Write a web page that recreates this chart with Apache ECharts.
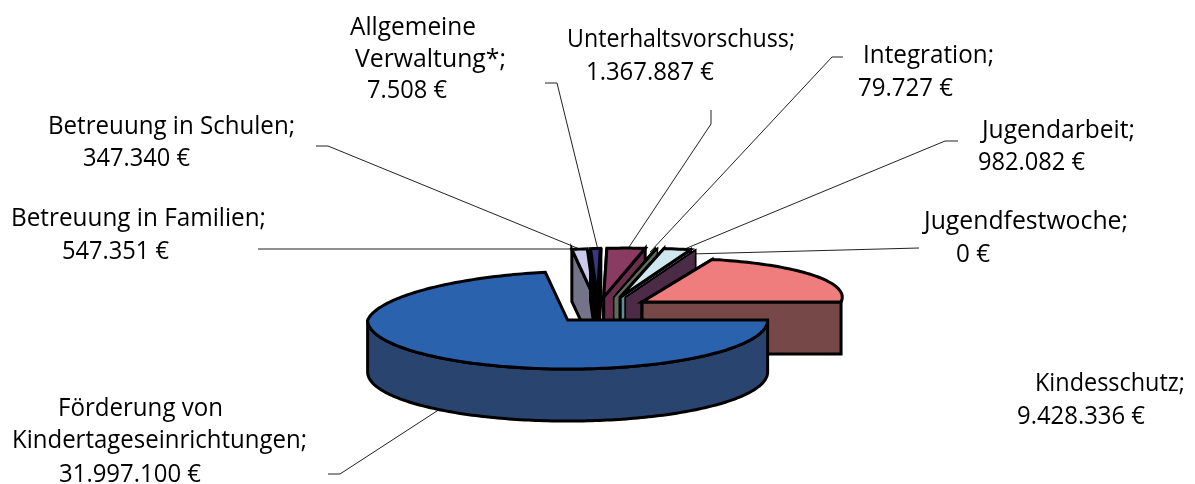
<!DOCTYPE html>
<html><head><meta charset="utf-8">
<style>html,body{margin:0;padding:0;background:#fff}#c{width:1195px;height:484px}</style>
<script src="https://cdn.jsdelivr.net/npm/echarts@6/dist/echarts.min.js"></script>
</head><body><div id="c"></div>
<script>
// Data, clockwise from the 3 o'clock position
const categories = ["Förderung von Kindertageseinrichtungen","Betreuung in Familien","Betreuung in Schulen","Allgemeine Verwaltung*","Unterhaltsvorschuss","Integration","Jugendarbeit","Jugendfestwoche","Kindesschutz"];
const values = [31997100,547351,347340,7508,1367887,79727,982082,0,9428336];
const topColors = ["#2a62ad","#c9c9ec","#3b3585","#1a1a3a","#8a3b62","#7f8f7a","#cde9ef","#4b2b45","#f07d7d"];
const sideColors = ["#2a4470","#747489","#000000","#000000","#6a2d4b","#5f6b5b","#5f8f95","#4b2b45","#774848"];
// Label lines: text, left edge, centre line, width in the reference
const labelLines = [
 ["Allgemeine",350,28,126],["Verwaltung*;",355,59.5,151],["7.508 €",367,90.5,80],
 ["Unterhaltsvorschuss;",567,40,228],["1.367.887 €",586,72.5,128],
 ["Integration;",863,56,131],["79.727 €",858,88.5,95],
 ["Jugendarbeit;",982,131,153],["982.082 €",978,162.5,107],
 ["Jugendfestwoche;",924,222,204],["0 €",956,254.5,34],
 ["Kindesschutz;",1035,384,150],["9.428.336 €",1017,416.5,128],
 ["Förderung von",58,409,165],["Kindertageseinrichtungen;",12,441,295],["31.997.100 €",59,474.5,142],
 ["Betreuung in Schulen;",48,127,247],["347.340 €",83,158.5,107],
 ["Betreuung in Familien;",11,219,255],["547.351 €",62,251.5,107]
];
const leaders = [
 [[258,249],[572,249]],
 [[316,146],[328,146],[582,250]],
 [[545,83],[557,83],[598,250]],
 [[711,110],[711,124],[627,250]],
 [[843,57],[832,57],[650,252]],
 [[958,141],[945,141],[675,253]],
 [[919,248],[690,254]],
 [[328,474],[340,474],[440,409]]
];
// projection of the tilted pie
const P = {x0:599.5,y0:310,dx:51,dy:12.9,backShift:4,spread:50,rx:200,ry:49,depth:52,shear:22,farRx:199,farRy:44};
const total = values.reduce((a,b)=>a+b,0);
let acc = 0;
const sliceData = values.map((v,i)=>{const s=acc; acc+=v; return {value:[i,s/total*Math.PI*2,(s+v)/total*Math.PI*2]};});
// draw back slices first, front slice last
const drawOrder = [1,2,3,4,5,6,7,8,0];
const ordered = drawOrder.map(i=>sliceData[i]);

function rim(c,t,i){
  const sn=Math.sin(t), far=i===8;
  return [c[0]+(far?P.farRx:P.rx)*Math.cos(t)+P.shear*Math.max(0,-sn), c[1]+(far?P.farRy:P.ry)*sn];
}
function apex(a0,a1){
  const m=(a0+a1)/2, sn=Math.sin(m), cs=Math.cos(m), b=Math.max(0,-sn);
  return [P.x0+P.dx*cs+P.backShift*b*b+P.spread*Math.max(0,cs)*Math.pow(b,8), P.y0+P.dy*sn];
}
const down=p=>[p[0],p[1]+P.depth];
function arc(c,a,b,i){
  const n=Math.max(1,Math.ceil(Math.abs(b-a)/0.02)),pts=[];
  for(let k=0;k<=n;k++)pts.push(rim(c,a+(b-a)*k/n,i));
  return pts;
}
function poly(points,fill,w){return {type:"polygon",shape:{points},style:{fill,stroke:"#000",lineWidth:w,lineJoin:"miter",miterLimit:6}};}

function renderItem(params,api){
  const i=api.value(0),a0=api.value(1),a1=api.value(2);
  const c=apex(a0,a1),kids=[];
  const side=sideColors[i],top=topColors[i];
  // very thin slices keep a finer outline so they do not swallow their neighbours
  const w=(a1-a0)<0.02?1.5:3;
  // outer wall where the rim faces the viewer
  const wa=Math.max(a0,0),wb=Math.min(a1,Math.PI);
  if(wb>wa){const up=arc(c,wa,wb,i);kids.push(poly(up.concat(up.slice().reverse().map(down)),side,w));}
  // radial walls
  const wall=t=>{const r=rim(c,t,i);return poly([c,r,down(r),down(c)],side,w);};
  if(a0>Math.PI/2 && i!==0) kids.push(wall(a0));
  if(a1>Math.PI*1.5 && i!==8) kids.push(wall(a1));
  if(i===8) kids.push(wall(Math.PI*2));
  // top face
  kids.push(poly([c].concat(arc(c,a0,a1,i)),top,w));
  return {type:"group",children:kids};
}

const font="25.5px 'Open Sans'";
const meter=document.createElement("canvas").getContext("2d");
meter.font=font;
const graphics=[];
leaders.forEach(l=>graphics.push({type:"polyline",shape:{points:l},style:{stroke:"#222",lineWidth:1,fill:null},silent:true}));
labelLines.forEach(l=>graphics.push({type:"text",x:l[1],y:l[2],scaleX:l[3]/meter.measureText(l[0]).width,style:{text:l[0],fill:"#000",font,textAlign:"left",textVerticalAlign:"middle"},silent:true}));

const chart=echarts.init(document.getElementById("c"),null,{renderer:"canvas"});
chart.setOption({
  animation:false,
  backgroundColor:"#fff",
  graphic:{elements:graphics},
  series:[{type:"custom",coordinateSystem:"none",silent:true,clip:false,renderItem,data:ordered,
    dimensions:["index","start","end"],encode:{value:[0,1,2]}}]
});
</script></body></html>
